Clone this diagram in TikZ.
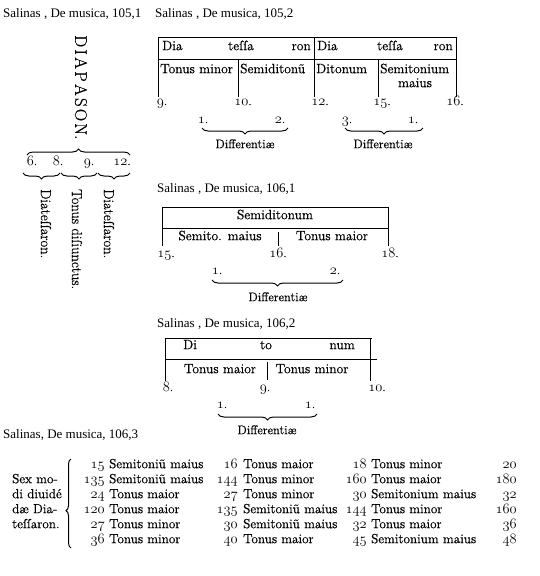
\documentclass[tikz,border=0pt]{standalone}
\usepackage{fontspec}
\usepackage{graphicx}
\setmainfont{Latin Modern Roman}[FakeBold=0.6]
\newfontfamily\capfont{Liberation Serif}
\usetikzlibrary{decorations.pathreplacing}
\newcommand\onum[1]{\scalebox{1.2}{$\mathnormal{#1}$}}
\begin{document}
\begin{tikzpicture}[x=1pt,y=-1pt,
  captxt/.style={font=\capfont\fontsize{13}{13}\selectfont,anchor=mid west,inner sep=0pt},
  txt/.style={font=\fontsize{12.5}{13}\selectfont,inner sep=0pt,anchor=mid},
  txtl/.style={txt,anchor=mid west},
  txtr/.style={txt,anchor=mid east},
  boxt/.style={font=\fontsize{13.5}{14}\selectfont,inner sep=0pt,anchor=mid},
  boxtl/.style={boxt,anchor=mid west},
  boxtr/.style={boxt,anchor=mid east},
  tabt/.style={font=\fontsize{13.2}{14}\selectfont,inner sep=0pt,anchor=mid west},
  tabn/.style={font=\fontsize{13.2}{14}\selectfont,inner sep=0pt,anchor=mid east},
  vtxt/.style={font=\fontsize{14.5}{15}\selectfont,inner sep=0pt,rotate=-90,anchor=west},
  ruleline/.style={line width=1pt},
  brcdown/.style={decorate,decoration={brace,amplitude=6pt,mirror},line width=1pt},
  brcup/.style={decorate,decoration={brace,amplitude=6pt},line width=1pt}]
\useasboundingbox (0,0) rectangle (540,576);
\fill[white] (0,0) rectangle (540,576);

% ---------- captions
\node[captxt] (c1) at (3,15) {Salinas , De musica, 105,1};
\node[captxt] (c2) at (155,15) {Salinas , De musica, 105,2};
\node[captxt] (c3) at (157,190) {Salinas , De musica, 106,1};
\node[captxt] (c4) at (157,325) {Salinas , De musica, 106,2};
\node[captxt] (c5) at (3,436) {Salinas, De musica, 106,3};

% ---------- 105,1
\node[font=\fontsize{17}{17}\selectfont,inner sep=0pt,rotate=-90,anchor=west] (diap) at (81,35)
  {D\kern2.2pt I\kern2.2pt A\kern2.2pt P\kern2.2pt A\kern2.2pt S\kern2.2pt O\kern2.2pt N.};
\coordinate (ua) at (27,155); \coordinate (ub) at (130,155);
\draw[brcup] (ua) -- (ub);
\node[txt] (n6) at (32,163) {\onum{6}.};
\node[txt] (n8) at (58,163) {\onum{8}.};
\node[txt] (n9) at (89,163) {\onum{9}.};
\node[txt] (n12) at (122,163) {\onum{12}.};
\coordinate (la) at (23,173); \coordinate (lb) at (60,173);
\coordinate (lc) at (61,173); \coordinate (ld) at (97,173);
\coordinate (le) at (98,173); \coordinate (lf) at (130,173);
\draw[brcdown] (la) -- (lb);
\draw[brcdown] (lc) -- (ld);
\draw[brcdown] (le) -- (lf);
\node[vtxt] (v1) at (46,189) {Diateſſaron.};
\node[vtxt] (v2) at (77,189) {Tonus diſiunctus.};
\node[vtxt] (v3) at (109,189) {Diateſſaron.};

% ---------- 105,2
\draw[ruleline] (158,37) -- (456,37);
\draw[ruleline] (158,59) -- (456,59);
\draw[ruleline] (158,37) -- (158,97);
\draw[ruleline] (314,37) -- (314,97);
\draw[ruleline] (456,37) -- (456,97);
\draw[ruleline] (238,59) -- (238,97);
\draw[ruleline] (378,59) -- (378,97);
\node[boxtl] (a1) at (162,48) {Dia};
\node[boxt]  (a2) at (241,48) {teſſa};
\node[boxtr] (a3) at (311,48) {ron};
\node[boxtl] (a4) at (317,48) {Dia};
\node[boxt]  (a5) at (390,48) {teſſa};
\node[boxtr] (a6) at (453,48) {ron};
\node[boxtl] (b1) at (160,71) {Tonus minor};
\node[boxtl] (b2) at (240,71) {Semiditonũ};
\node[boxtl] (b3) at (316,71) {Ditonum};
\node[boxtl] (b4) at (380,71) {Semitonium};
\node[boxt]  (b5) at (415,85) {maius};
\node[txt] (m9) at (162,103) {\onum{9}.};
\node[txt] (m10) at (243,103) {\onum{10}.};
\node[txt] (m12) at (320,103) {\onum{12}.};
\node[txt] (m15) at (382,103) {\onum{15}.};
\node[txt] (m16) at (455,103) {\onum{16}.};
\node[txt] (d1) at (203,121) {\onum{1}.};
\node[txt] (d2) at (280,121) {\onum{2}.};
\coordinate (da) at (202,128); \coordinate (db) at (288,128);
\draw[brcdown] (da) -- (db);
\node[txt] (df1) at (245,146) {Differentiæ};
\node[txt] (d3) at (347,121) {\onum{3}.};
\node[txt] (d4) at (413,121) {\onum{1}.};
\coordinate (dc) at (345,128); \coordinate (dd) at (423,128);
\draw[brcdown] (dc) -- (dd);
\node[txt] (df2) at (383,146) {Differentiæ};

% ---------- 106,1
\draw[ruleline] (162,207) -- (388,207);
\draw[ruleline] (162,228) -- (388,228);
\draw[ruleline] (162,207) -- (162,246);
\draw[ruleline] (388,207) -- (388,246);
\draw[ruleline] (278,232) -- (278,246);
\node[boxt] (e1) at (275,217) {Semiditonum};
\node[boxt] (e2) at (220,238) {Semito. maius};
\node[boxt] (e3) at (332,238) {Tonus maior};
\node[txt] (p15) at (166,255) {\onum{15}.};
\node[txt] (p16) at (278,255) {\onum{16}.};
\node[txt] (p18) at (390,255) {\onum{18}.};
\node[txt] (q1) at (217,272) {\onum{1}.};
\node[txt] (q2) at (335,272) {\onum{2}.};
\coordinate (qa) at (212,280); \coordinate (qb) at (343,280);
\draw[brcdown] (qa) -- (qb);
\node[txt] (df3) at (278,299) {Differentiæ};

% ---------- 106,2
\draw[ruleline] (165,338) -- (372,338);
\draw[ruleline] (165,359) -- (377,359);
\draw[ruleline] (165,338) -- (165,381);
\draw[ruleline] (370,338) -- (370,381);
\draw[ruleline] (267,362) -- (267,380);
\node[boxtl] (f1) at (183,347) {Di};
\node[boxt]  (f2) at (266,347) {to};
\node[boxtr] (f3) at (355,347) {num};
\node[boxt] (g1) at (220,371) {Tonus maior};
\node[boxt] (g2) at (312,371) {Tonus minor};
\node[txt] (h8) at (168,389) {\onum{8}.};
\node[txt] (h9) at (265,389) {\onum{9}.};
\node[txt] (h10) at (377,389) {\onum{10}.};
\node[txt] (k1) at (222,406) {\onum{1}.};
\node[txt] (k2) at (310,406) {\onum{1}.};
\coordinate (ka) at (218,414); \coordinate (kb) at (317,414);
\draw[brcdown] (ka) -- (kb);
\node[txt] (df4) at (267,432) {Differentiæ};

% ---------- 106,3
\node[tabt] (s1) at (12,481) {Sex mo-};
\node[tabt] (s2) at (12,496) {di diuidé};
\node[tabt] (s3) at (12,511) {dæ Dia-};
\node[tabt] (s4) at (12,526) {teſſaron.};
\coordinate (ta) at (71,548); \coordinate (tb) at (71,459);
\draw[decorate,decoration={brace,amplitude=5pt,aspect=0.42},line width=1pt] (ta) -- (tb);
\foreach \i/\y/\na/\ta/\nb/\tb/\nc/\tc/\nd in {
  1/466/15/{Semitoniũ maius}/16/{Tonus maior}/18/{Tonus minor}/20,
  2/481/135/{Semitoniũ maius}/144/{Tonus minor}/160/{Tonus maior}/180,
  3/496/24/{Tonus maior}/27/{Tonus minor}/30/{Semitonium maius}/32,
  4/511/120/{Tonus maior}/135/{Semitoniũ maius}/144/{Tonus minor}/160,
  5/526/27/{Tonus minor}/30/{Semitoniũ maius}/32/{Tonus maior}/36,
  6/541/36/{Tonus minor}/40/{Tonus maior}/45/{Semitonium maius}/48}{
  \node[tabn] (r\i na) at (105,\y) {\onum{\na}};
  \node[tabt] (r\i ta) at (109,\y) {\ta};
  \node[tabn] (r\i nb) at (238,\y) {\onum{\nb}};
  \node[tabt] (r\i tb) at (243,\y) {\tb};
  \node[tabn] (r\i nc) at (367,\y) {\onum{\nc}};
  \node[tabt] (r\i tc) at (371,\y) {\tc};
  \node[tabn] (r\i nd) at (517,\y) {\onum{\nd}};
}
\end{tikzpicture}
\end{document}
